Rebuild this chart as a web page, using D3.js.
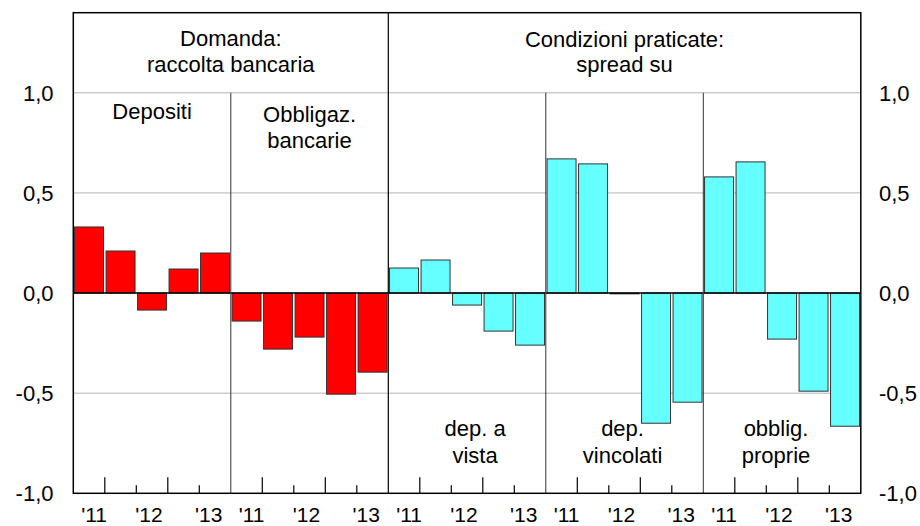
<!DOCTYPE html>
<html>
<head>
<meta charset="utf-8">
<script src="https://cdn.jsdelivr.net/npm/d3@7"></script>
<style>
  body { margin: 0; background: #fff; }
  svg text { font-family: "Liberation Sans", Arial, sans-serif; fill: #000; }
</style>
</head>
<body>
<svg id="chart" width="920" height="526"></svg>
<script>
// panels, left to right
var panels = ["Depositi", "Obbligaz. bancarie", "dep. a vista", "dep. vincolati", "obblig. proprie"];
var years = ["'11", "'12", "'13"];
var yTicks = [-1, -0.5, 0, 0.5, 1];

// five readings per panel
var depositi    = [0.33, 0.21, -0.085, 0.12, 0.20];
var obbligazBc  = [-0.14, -0.28, -0.22, -0.505, -0.395];
var depVista    = [0.125, 0.165, -0.06, -0.19, -0.26];
var depVincol   = [0.67, 0.645, -0.004, -0.65, -0.545];
var obbligProp  = [0.58, 0.655, -0.23, -0.49, -0.665];

var series = [depositi, obbligazBc, depVista, depVincol, obbligProp];
var colors = ["#ff0000", "#ff0000", "#66ffff", "#66ffff", "#66ffff"];

var svg = d3.select("svg#chart"),
  pLeft = 73.3, pRight = 860.8, pTop = 12.7, pBottom = 493.3,
  fs = "22px";

var y = d3.scaleLinear().domain([-1, 1.4]).range([pBottom, pTop]);
// bar slots 0..24
var bars = [];
series.forEach(function(s, p) {
  s.forEach(function(v, i) { bars.push({ id: p * 5 + i, value: v, color: colors[p] }); });
});
var x = d3.scaleBand().domain(d3.range(25)).range([pLeft, pRight])
  .paddingInner(0.08).paddingOuter(0.04);
var xb = d3.scaleLinear().domain([0, 25]).range([pLeft, pRight]);

// gridlines
svg.append("g").selectAll("line")
  .data([-0.5, 0.5, 1])
  .enter().append("line")
  .attr("x1", pLeft).attr("x2", pRight)
  .attr("y1", function(d) { return y(d); })
  .attr("y2", function(d) { return y(d); })
  .attr("stroke", "#b4b4b4").attr("stroke-width", 1);

// bars
svg.append("g").selectAll("rect")
  .data(bars)
  .enter().append("rect")
  .attr("x", function(d) { return x(d.id); })
  .attr("width", x.bandwidth())
  .attr("y", function(d) { return y(Math.max(0, d.value)); })
  .attr("height", function(d) { return Math.abs(y(d.value) - y(0)); })
  .attr("fill", function(d) { return d.color; })
  .attr("stroke", "#333").attr("stroke-width", 1);

// zero line
svg.append("line")
  .attr("x1", pLeft).attr("x2", pRight)
  .attr("y1", y(0)).attr("y2", y(0))
  .attr("stroke", "#000").attr("stroke-width", 1.5);

// panel dividers
svg.append("g").selectAll("line")
  .data([1, 3, 4])
  .enter().append("line")
  .attr("x1", function(d) { return xb(d * 5); })
  .attr("x2", function(d) { return xb(d * 5); })
  .attr("y1", y(1)).attr("y2", pBottom)
  .attr("stroke", "#333").attr("stroke-width", 1);
svg.append("line")
  .attr("x1", xb(10)).attr("x2", xb(10))
  .attr("y1", pTop).attr("y2", pBottom)
  .attr("stroke", "#000").attr("stroke-width", 1.2);

// ticks on the bottom
var tickIdx = d3.range(1, 25).filter(function(k) { return k % 5 != 0; });
svg.append("g").selectAll("line")
  .data(tickIdx)
  .enter().append("line")
  .attr("x1", function(d) { return xb(d); })
  .attr("x2", function(d) { return xb(d); })
  .attr("y1", pBottom)
  .attr("y2", function(d) { return (d % 5 == 1 || d % 5 == 3) ? pBottom - 16 : pBottom - 8; })
  .attr("stroke", "#000").attr("stroke-width", 1.2);

// frame
svg.append("rect")
  .attr("x", pLeft).attr("y", pTop)
  .attr("width", pRight - pLeft).attr("height", pBottom - pTop)
  .attr("fill", "none").attr("stroke", "#000").attr("stroke-width", 1.5);

// y labels both sides
var fmt = function(d) { return d3.format(".1f")(d).replace(".", ",").replace("−", "-"); };
svg.append("g").selectAll("text")
  .data(yTicks)
  .enter().append("text")
  .attr("x", 53.5)
  .attr("y", function(d) { return y(d) + 7.8; })
  .attr("text-anchor", "end")
  .style("font-size", fs)
  .text(fmt);
svg.append("g").selectAll("text")
  .data(yTicks)
  .enter().append("text")
  .attr("x", 879)
  .attr("y", function(d) { return y(d) + 7.8; })
  .style("font-size", fs)
  .text(fmt);

// year labels under each panel
var yearPos = [0.66, 2.4, 4.3];
var yearData = [];
panels.forEach(function(p, pi) {
  years.forEach(function(yr, j) { yearData.push({ t: yr, k: pi * 5 + yearPos[j] }); });
});
svg.append("g").selectAll("text")
  .data(yearData)
  .enter().append("text")
  .attr("x", function(d) { return xb(d.k); })
  .attr("y", 522)
  .attr("text-anchor", "middle")
  .style("font-size", "21px")
  .text(function(d) { return d.t; });

// header texts
function label(lines, cx, y0, dy) {
  var t = svg.append("text")
    .attr("text-anchor", "middle")
    .style("font-size", fs);
  lines.forEach(function(l, i) {
    t.append("tspan").attr("x", cx).attr("y", y0 + i * dy).text(l);
  });
}
label(["Domanda:", "raccolta bancaria"], xb(5), 46, 26);
label(["Condizioni praticate:", "spread su"], xb(17.5), 47, 25);
label(["Depositi"], xb(2.5), 119, 25);
label(["Obbligaz.", "bancarie"], xb(7.5), 122, 25.5);
label(["dep. a", "vista"], xb(12.5) + 8, 435.5, 27);
label(["dep.", "vincolati"], xb(17.5) - 2, 435.5, 27);
label(["obblig.", "proprie"], xb(22.5) - 6, 435.5, 27);
</script>
</body>
</html>
